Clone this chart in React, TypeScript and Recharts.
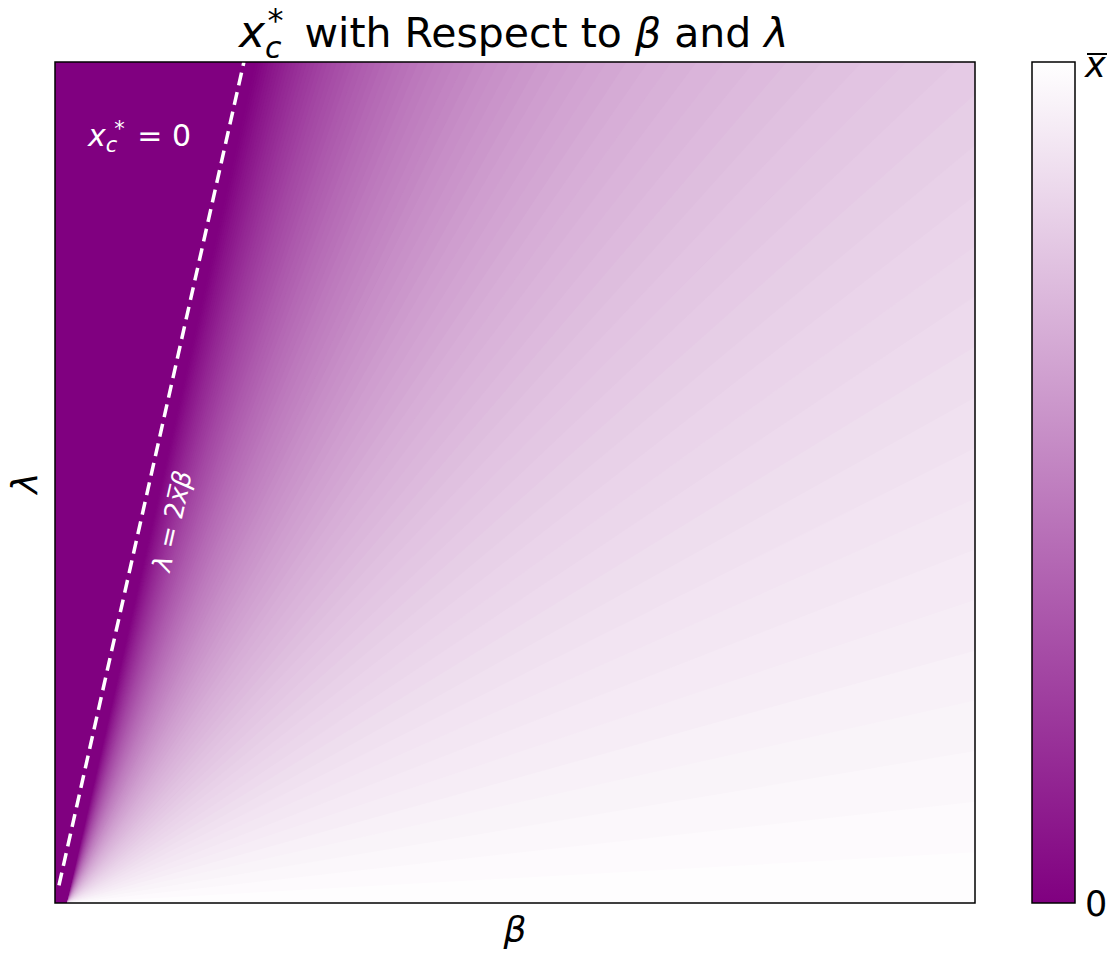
import { Area, Bar, BarChart, ComposedChart, ReferenceArea, ReferenceLine, XAxis, YAxis } from 'recharts';

// contour levels of x_c* / x̄ and the λ/β slope (plot units) each level sits on
const levels = [
  0, 0.0125, 0.025, 0.0375, 0.05, 0.0625, 0.075, 0.0875, 0.1, 0.1125, 0.125, 0.1375, 0.15,
  0.1625, 0.175, 0.1875, 0.2, 0.2125, 0.225, 0.2375, 0.25, 0.2625, 0.275, 0.2875, 0.3,
  0.3125, 0.325, 0.3375, 0.35, 0.3625, 0.375, 0.3875, 0.4, 0.4125, 0.425, 0.4375, 0.45,
  0.4625, 0.475, 0.4875, 0.5, 0.5125, 0.525, 0.5375, 0.55, 0.5625, 0.575, 0.5875, 0.6,
  0.6125, 0.625, 0.6375, 0.65, 0.6625, 0.675, 0.6875, 0.7, 0.7125, 0.725, 0.7375, 0.75,
  0.7625, 0.775, 0.7875, 0.8, 0.8125, 0.825, 0.8375, 0.85, 0.8625, 0.875, 0.8875, 0.9,
  0.9125, 0.925, 0.9375, 0.95, 0.9625, 0.975, 0.9875, 1,
];
const slopes = [
  4.87, 4.809, 4.748, 4.687, 4.627, 4.566, 4.505, 4.444, 4.383, 4.322, 4.261, 4.2, 4.14,
  4.079, 4.018, 3.957, 3.896, 3.835, 3.774, 3.713, 3.653, 3.592, 3.531, 3.47, 3.409,
  3.348, 3.287, 3.226, 3.166, 3.105, 3.044, 2.983, 2.922, 2.861, 2.8, 2.739, 2.679,
  2.618, 2.557, 2.496, 2.435, 2.374, 2.313, 2.252, 2.192, 2.131, 2.07, 2.009, 1.948,
  1.887, 1.826, 1.765, 1.705, 1.644, 1.583, 1.522, 1.461, 1.4, 1.339, 1.278, 1.218,
  1.157, 1.096, 1.035, 0.974, 0.913, 0.852, 0.791, 0.731, 0.67, 0.609, 0.548, 0.487,
  0.426, 0.365, 0.304, 0.244, 0.183, 0.122, 0.061, 0,
];
const fanOrigin = 0.013; // β where the contours meet the bottom edge
const betaRange = [fanOrigin, 1];
const boundarySlope = 4.87; // λ = 2x̄β
const boundaryStart = 0.0043;
const cmapColors = ['#800080', '#ffffff'];

const W = 1115;
const H = 955;
const plot = { left: 55, top: 62, right: 975, bottom: 903 };
const cbar = { left: 1032, top: 62, right: 1075, bottom: 903 };
const FONT = '"DejaVu Sans", sans-serif';

function hex(c: string) {
  return [1, 3, 5].map((i) => parseInt(c.slice(i, i + 2), 16));
}

function cmap(v: number) {
  const a = hex(cmapColors[0]);
  const b = hex(cmapColors[1]);
  const c = a.map((x, i) => Math.round(x + (b[i] - x) * v));
  return `rgb(${c[0]},${c[1]},${c[2]})`;
}

// each band is painted from λ=0 up to its upper contour; later (lighter) bands cover the lower part
const bands = levels.slice(0, -1).map((v, i) => ({
  key: `b${i}`,
  slope: slopes[i],
  color: cmap((v + levels[i + 1]) / 2),
}));

const rows = betaRange.map((beta) => {
  const row: Record<string, number> = { beta };
  bands.forEach((b) => {
    row[b.key] = b.slope * (beta - fanOrigin);
  });
  return row;
});

function Heatmap() {
  return (
    <ComposedChart
      width={W}
      height={H}
      data={rows}
      margin={{ top: plot.top, left: plot.left, right: W - plot.right, bottom: H - plot.bottom }}
    >
      <XAxis dataKey="beta" type="number" domain={[0, 1]} hide allowDataOverflow />
      <YAxis type="number" domain={[0, 1]} hide allowDataOverflow />
      <ReferenceArea x1={0} x2={1} y1={0} y2={1} fill={cmapColors[0]} fillOpacity={1} stroke="none" />
      {bands.map((b) => (
        <Area
          key={b.key}
          type="linear"
          dataKey={b.key}
          baseValue={0}
          fill={b.color}
          fillOpacity={1}
          stroke="none"
          dot={false}
          activeDot={false}
          isAnimationActive={false}
        />
      ))}
      <ReferenceLine
        segment={[
          { x: boundaryStart, y: boundaryStart * boundarySlope },
          { x: 1 / boundarySlope, y: 1 },
        ]}
        stroke="#fff"
        strokeWidth={3.5}
        strokeDasharray="13 7"
      />
    </ComposedChart>
  );
}

function Colorbar() {
  return (
    <BarChart
      width={cbar.right - cbar.left + 4}
      height={cbar.bottom - cbar.top + 4}
      data={[{ name: 'cbar', top: 1 }]}
      margin={{ top: 2, left: 2, right: 2, bottom: 2 }}
      barCategoryGap={0}
    >
      <defs>
        <linearGradient id="cbarGrad" x1="0" y1="1" x2="0" y2="0">
          {cmapColors.map((c, i) => (
            <stop key={c} offset={i / (cmapColors.length - 1)} stopColor={c} />
          ))}
        </linearGradient>
      </defs>
      <XAxis dataKey="name" hide />
      <YAxis type="number" domain={[0, 1]} hide />
      <Bar dataKey="top" fill="url(#cbarGrad)" stroke="#000" strokeWidth={1.5} isAnimationActive={false} />
    </BarChart>
  );
}

function Overlay() {
  return (
    <svg width={W} height={H} style={{ position: 'absolute', left: 0, top: 0, pointerEvents: 'none' }}>
      <rect
        x={plot.left}
        y={plot.top}
        width={plot.right - plot.left}
        height={plot.bottom - plot.top}
        fill="none"
        stroke="#000"
        strokeWidth={1.5}
      />
      <text x={239} y={47} fontFamily={FONT} fontSize={41} fill="#000">
        <tspan fontStyle="italic" fontSize={44}>x</tspan>
        <tspan fontStyle="italic" fontSize={30} dy={11}>c</tspan>
        <tspan fontSize={32} dx={-14} dy={-27}>*</tspan>
        <tspan dx={8} dy={16}>{' with Respect to '}</tspan>
        <tspan fontStyle="italic">β</tspan>
        <tspan>{' and '}</tspan>
        <tspan fontStyle="italic">λ</tspan>
      </text>
      <text x={88} y={146} fontFamily={FONT} fontSize={30} fill="#fff">
        <tspan fontStyle="italic">x</tspan>
        <tspan fontStyle="italic" fontSize={21} dy={6}>c</tspan>
        <tspan fontSize={21} dx={-3} dy={-16}>*</tspan>
        <tspan dx={3} dy={10}>{' = 0'}</tspan>
      </text>
      <text
        transform="translate(181,523) rotate(-77.3)"
        textAnchor="middle"
        fontFamily={FONT}
        fontSize={26}
        fill="#fff"
      >
        <tspan fontStyle="italic">λ</tspan>
        <tspan>{' = 2'}</tspan>
        <tspan fontStyle="italic">{'x\u0305β'}</tspan>
      </text>
      <text transform="translate(37,483) rotate(-90)" textAnchor="middle" fontFamily={FONT} fontSize={36} fontStyle="italic" fill="#000">
        λ
      </text>
      <text x={515} y={942} textAnchor="middle" fontFamily={FONT} fontSize={36} fontStyle="italic" fill="#000">
        β
      </text>
      <text x={1085} y={916} fontFamily={FONT} fontSize={35} fill="#000">
        0
      </text>
      <text x={1085} y={77} fontFamily={FONT} fontSize={35} fontStyle="italic" fill="#000">
        x
      </text>
      <line x1={1087} x2={1107} y1={54} y2={54} stroke="#000" strokeWidth={2} />
    </svg>
  );
}

export default function App() {
  return (
    <div style={{ position: 'absolute', left: 0, top: 0, width: W, height: H, background: '#fff' }}>
      <Heatmap />
      <div style={{ position: 'absolute', left: cbar.left - 2, top: cbar.top - 2 }}>
        <Colorbar />
      </div>
      <Overlay />
    </div>
  );
}
